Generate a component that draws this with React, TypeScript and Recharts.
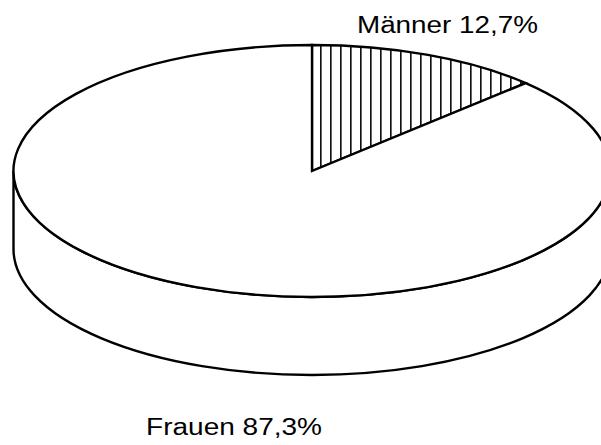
import React from 'react';
import { PieChart, Pie } from 'recharts';

const groups = ['Männer', 'Frauen'];
const shares = [12.7, 87.3];
const labels = ['Männer 12,7%', 'Frauen 87,3%'];

const data = groups.map((name, i) => ({ name, value: shares[i], label: labels[i] }));

const W = 601;
const H = 445;
const CX = 312;
const CY = 171;
const RX = 298.5;
const TILT = 0.422; // ry / rx
const DEPTH = 78;
const LINE = 2.4;

const rad = (d: number) => (d * Math.PI) / 180;

const pt = (cx: number, cy: number, rx: number, ry: number, a: number, dy = 0) => ({
  x: cx + rx * Math.cos(rad(a)),
  y: cy - ry * Math.sin(rad(a)) + dy,
});

// front half of the disc in math angles: -180 .. 0
const frontRange = (s: number, e: number) => {
  const lo0 = Math.min(s, e);
  const hi0 = Math.max(s, e);
  for (const shift of [0, 360, -360]) {
    const lo = Math.max(lo0 + shift, -180);
    const hi = Math.min(hi0 + shift, 0);
    if (hi - lo > 0.01) return [lo, hi];
  }
  return null;
};

const EllipseSector = (props: any) => {
  const { cx, cy, outerRadius, startAngle, endAngle, index } = props;
  const rx = outerRadius;
  const ry = outerRadius * TILT;
  const p0 = pt(cx, cy, rx, ry, startAngle);
  const p1 = pt(cx, cy, rx, ry, endAngle);
  const large = Math.abs(endAngle - startAngle) > 180 ? 1 : 0;
  const sweep = endAngle < startAngle ? 1 : 0;
  const top = `M${cx},${cy} L${p0.x},${p0.y} A${rx},${ry} 0 ${large} ${sweep} ${p1.x},${p1.y} Z`;

  const fr = frontRange(startAngle, endAngle);
  let wall = null;
  if (fr) {
    const [lo, hi] = fr;
    const a = pt(cx, cy, rx, ry, lo);
    const b = pt(cx, cy, rx, ry, lo, DEPTH);
    const c = pt(cx, cy, rx, ry, hi, DEPTH);
    const d = pt(cx, cy, rx, ry, hi);
    const wl = hi - lo > 180 ? 1 : 0;
    wall = `M${a.x},${a.y} L${b.x},${b.y} A${rx},${ry} 0 ${wl} 0 ${c.x},${c.y} L${d.x},${d.y} A${rx},${ry} 0 ${wl} 1 ${a.x},${a.y} Z`;
  }

  return (
    <g>
      {wall && <path d={wall} fill="#fff" stroke="#000" strokeWidth={LINE} />}
      <path
        d={top}
        fill={index === 0 ? 'url(#hatch)' : '#fff'}
        stroke="#000"
        strokeWidth={LINE}
        strokeLinejoin="miter"
      />
    </g>
  );
};

const renderLabel = (props: any) => {
  const { cx, cy, outerRadius, midAngle, index } = props;
  const rx = outerRadius;
  const ry = outerRadius * TILT;
  const front = Math.sin(rad(midAngle)) < 0;
  const p = pt(cx, cy, rx, ry, midAngle, front ? DEPTH : 0);
  const x = front ? p.x - 50 : p.x - 71;
  const y = front ? p.y + 70 : p.y - 22;
  const len = index === 0 ? 181 : 176;
  return (
    <text
      x={x}
      y={y}
      textLength={len}
      lengthAdjust="spacingAndGlyphs"
      fontFamily="'Liberation Sans', Arial, sans-serif"
      fontSize={23}
      fill="#000"
      textAnchor="start"
    >
      {data[index].label}
    </text>
  );
};

export default function App() {
  return (
    <div style={{ position: 'absolute', left: 0, top: 0, width: W, height: H, background: '#fff' }}>
      <PieChart width={W} height={H} margin={{ top: 0, right: 0, bottom: 0, left: 0 }}>
        <defs>
          <pattern id="hatch" patternUnits="userSpaceOnUse" width={10} height={10}>
            <rect x={0} y={0} width={10} height={10} fill="#fff" />
            <line x1={0.7} y1={0} x2={0.7} y2={10} stroke="#111" strokeWidth={1.9} />
          </pattern>
        </defs>
        <Pie
          data={data}
          dataKey="value"
          nameKey="name"
          cx={CX}
          cy={CY}
          innerRadius={0}
          outerRadius={RX}
          startAngle={90}
          endAngle={-270}
          stroke="none"
          shape={EllipseSector}
          label={renderLabel}
          labelLine={false}
          isAnimationActive={false}
        />
      </PieChart>
    </div>
  );
}
